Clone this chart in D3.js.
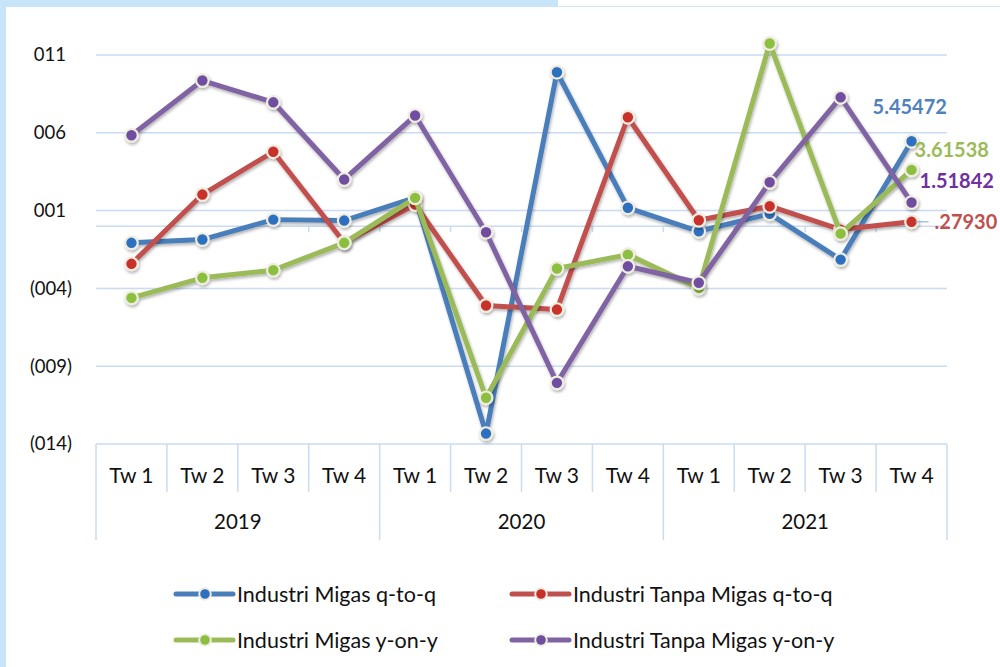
<!DOCTYPE html>
<html><head><meta charset="utf-8">
<script src="https://cdn.jsdelivr.net/npm/d3@7"></script>
<style>
html,body{margin:0;padding:0;background:#fff;}
svg{display:block;font-family:Lato,"Open Sans",sans-serif;}
</style></head>
<body>
<svg id="chart" width="1000" height="667"></svg>
<script>
// ---- data ----
const years = ["2019", "2020", "2021"];
const quarters = ["Tw 1", "Tw 2", "Tw 3", "Tw 4"];
const yTicks = [11, 6, 1, -4, -9, -14];
const seriesNames = ["Industri Migas q-to-q", "Industri Tanpa Migas q-to-q", "Industri Migas y-on-y", "Industri Tanpa Migas y-on-y"];
const migasQtq      = [-1.07, -0.86, 0.42, 0.36, 1.84, -13.33, 9.89, 1.18, -0.33, 0.79, -2.15, 5.45472];
const tanpaMigasQtq = [-2.42, 2.03, 4.78, -1.05, 1.39, -5.10, -5.36, 7.00, 0.38, 1.28, -0.22, 0.27930];
const migasYoy      = [-4.61, -3.32, -2.83, -1.07, 1.82, -11.03, -2.72, -1.83, -3.97, 11.74, -0.48, 3.61538];
const tanpaMigasYoy = [5.84, 9.36, 7.96, 3.00, 7.11, -0.39, -10.07, -2.58, -3.64, 2.82, 8.28, 1.51842];

(function () {
// ---- styles ----
const lineColors  = ["#4a7ebb", "#c0504d", "#9bbb59", "#8064a2"];
const markColors  = ["#2f6fc0", "#c9302c", "#8cbf3f", "#6f4ea0"];
const labelColors = ["#4f81bd", "#c0504d", "#9bbb59", "#7030a0"];
const labelOffsets = [[-39, -34], [23, 0], [3, -20], [8, -22]]; // dx (start), dy from last point
const gridColor = "#c9dcf1";

const svg = d3.select("#chart");
const defs = svg.append("defs");
const f = defs.append("filter").attr("id", "sh").attr("x", "-20%").attr("y", "-20%").attr("width", "140%").attr("height", "140%");
f.append("feDropShadow").attr("dx", 1).attr("dy", 2).attr("stdDeviation", 1.6).attr("flood-color", "#000").attr("flood-opacity", 0.3);

// frame bands
svg.append("rect").attr("x", 0).attr("y", 0).attr("width", 6).attr("height", 667).attr("fill", "#c7e4f8");
svg.append("rect").attr("x", 0).attr("y", 0).attr("width", 558).attr("height", 7).attr("fill", "#c7e4f8");
svg.append("line").attr("x1", 558).attr("x2", 1000).attr("y1", 6.5).attr("y2", 6.5).attr("stroke", "#d3e6f5").attr("stroke-width", 1);

const cats = [];
years.forEach(yr => quarters.forEach(q => cats.push(yr + "|" + q)));

const pLeft = 96, pRight = 947, pTop = 55, pBottom = 444;
const x = d3.scaleBand().domain(cats).range([pLeft, pRight]);
const y = d3.scaleLinear().domain([-14, 11]).range([pBottom, pTop]);
const cx = c => x(c) + x.bandwidth() / 2;

// gridlines
svg.append("g").selectAll("line").data(yTicks).join("line")
  .attr("x1", pLeft).attr("x2", pRight)
  .attr("y1", d => y(d)).attr("y2", d => y(d))
  .attr("stroke", gridColor).attr("stroke-width", 1.5);

// y tick labels
const fmtY = v => v >= 0 ? String(v).padStart(3, "0") : "(" + String(-v).padStart(3, "0") + ")";
svg.append("g").selectAll("text").data(yTicks).join("text")
  .attr("x", d => d >= 0 ? 66 : 72).attr("y", d => y(d)).attr("dy", "0.35em")
  .attr("text-anchor", "end").attr("font-size", 18.5).attr("fill", "#111")
  .text(fmtY);

// zero axis with downward ticks
svg.append("line").attr("x1", pLeft).attr("x2", pRight).attr("y1", y(0)).attr("y2", y(0))
  .attr("stroke", gridColor).attr("stroke-width", 1.5);
svg.append("g").selectAll("line").data(d3.range(1, cats.length)).join("line")
  .attr("x1", i => pLeft + i * x.step()).attr("x2", i => pLeft + i * x.step())
  .attr("y1", y(0)).attr("y2", y(0) + 6).attr("stroke", gridColor).attr("stroke-width", 1.5);

// category axis box
const axG = svg.append("g");
axG.selectAll("line.q").data(d3.range(0, cats.length + 1)).join("line")
  .attr("x1", i => pLeft + i * x.step()).attr("x2", i => pLeft + i * x.step())
  .attr("y1", pBottom).attr("y2", i => i % 4 === 0 ? 540 : 492)
  .attr("stroke", gridColor).attr("stroke-width", 1.5);
axG.selectAll("text.q").data(cats).join("text")
  .attr("x", d => cx(d)).attr("y", 476).attr("dy", "0.35em")
  .attr("text-anchor", "middle").attr("font-size", 21).attr("fill", "#111")
  .text(d => d.split("|")[1]);
axG.selectAll("text.y").data(years).join("text")
  .attr("x", (d, i) => pLeft + (i * 4 + 2) * x.step()).attr("y", 522).attr("dy", "0.35em")
  .attr("text-anchor", "middle").attr("font-size", 20.5).attr("fill", "#111")
  .text(d => d);

// series
const allSeries = [migasQtq, tanpaMigasQtq, migasYoy, tanpaMigasYoy];
const line = d3.line().x((d, i) => cx(cats[i])).y(d => y(d));
allSeries.forEach((vals, si) => {
  const g = svg.append("g").attr("filter", "url(#sh)");
  g.append("path").datum(vals).attr("d", line)
    .attr("fill", "none").attr("stroke", lineColors[si]).attr("stroke-width", 5)
    .attr("stroke-linejoin", "round");
  g.selectAll("circle").data(vals).join("circle")
    .attr("cx", (d, i) => cx(cats[i])).attr("cy", d => y(d)).attr("r", 6.3)
    .attr("fill", markColors[si]).attr("stroke", "#efede0").attr("stroke-width", 2.2);
});

// data labels for last point
const fmtLabel = v => { const s = v.toFixed(5); return s.startsWith("0.") ? s.slice(1) : s; };
const lastX = cx(cats[cats.length - 1]);
svg.append("line").attr("x1", lastX + 4).attr("x2", lastX + 17)
  .attr("y1", y(tanpaMigasQtq[11])).attr("y2", y(tanpaMigasQtq[11]))
  .attr("stroke", "#8fb4e0").attr("stroke-width", 1.2);
allSeries.forEach((vals, si) => {
  const v = vals[vals.length - 1];
  svg.append("text")
    .attr("x", lastX + labelOffsets[si][0]).attr("y", y(v) + labelOffsets[si][1]).attr("dy", "0.35em")
    .attr("font-size", 20).attr("font-weight", "bold").attr("fill", labelColors[si])
    .text(fmtLabel(v));
});

// legend
const legPos = [[176, 594], [512, 594], [176, 640], [512, 640]];
seriesNames.forEach((name, si) => {
  const [lx, ly] = legPos[si];
  const g = svg.append("g");
  g.append("line").attr("x1", lx).attr("x2", lx + 57).attr("y1", ly).attr("y2", ly)
    .attr("stroke", lineColors[si]).attr("stroke-width", 5).attr("stroke-linecap", "round");
  g.append("circle").attr("cx", lx + 29).attr("cy", ly).attr("r", 5.8)
    .attr("fill", markColors[si]).attr("stroke", "#efede0").attr("stroke-width", 2);
  g.append("text").attr("x", lx + 61).attr("y", ly).attr("dy", "0.35em")
    .attr("font-size", 21.5).attr("fill", "#111").text(name);
});
})();
</script>
</body></html>
